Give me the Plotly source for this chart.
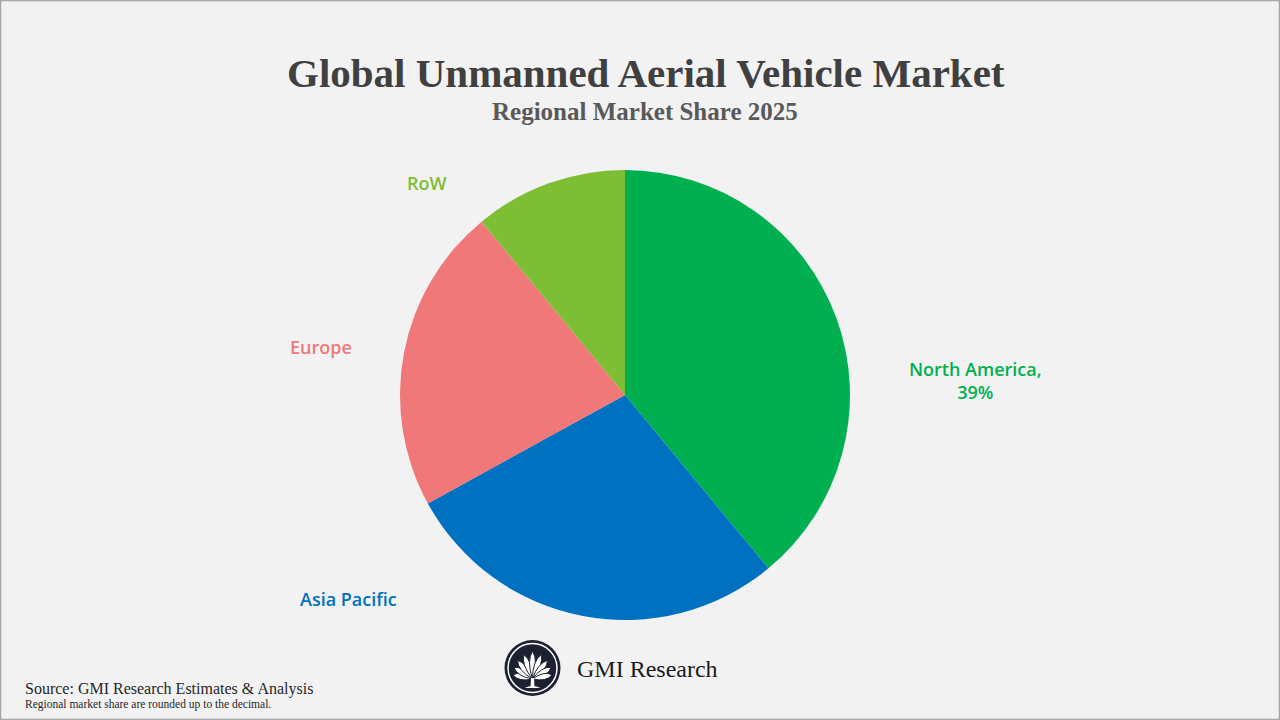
import math
import plotly.graph_objects as go

# regional shares 2025 (%)
regions = ["North America", "Asia Pacific", "Europe", "RoW"]
shares = [39, 28, 22, 11]
colors = ["#00B050", "#0070C0", "#F07878", "#7DBE34"]
show_pct = [True, False, False, False]

title = "Global Unmanned Aerial Vehicle Market"
subtitle = "Regional Market Share 2025"
source = "Source: GMI Research Estimates & Analysis"
note = "Regional market share are rounded up to the decimal."

W, H = 1280, 720
cx, cy, r = 625, 395, 225

fig = go.Figure()
fig.add_trace(go.Pie(
    labels=regions, values=shares, sort=False, direction="clockwise",
    rotation=0, marker=dict(colors=colors, line=dict(width=0)),
    textinfo="none", hoverinfo="label+percent", showlegend=False,
    domain=dict(x=[(cx - r) / W, (cx + r) / W],
                y=[(H - cy - r) / H, (H - cy + r) / H]),
))

# label placement (pixel coords)
label_pos = [(975, 380), (348, 599), (321, 347), (427, 183)]
for name, val, col, pct, (lx, ly) in zip(regions, shares, colors, show_pct, label_pos):
    txt = f"{name},<br>{val}%" if pct else name
    fig.add_annotation(x=lx, y=ly, text=txt, showarrow=False,
                       font=dict(family="Open Sans", size=18, color=col, weight=600),
                       xanchor="center", yanchor="middle")

fig.add_annotation(x=W / 2 + 6, y=73, text=f"<b>{title}</b>", showarrow=False,
                   font=dict(family="Liberation Serif", size=41, color="#404040"))
fig.add_annotation(x=W / 2 + 5, y=111, text=f"<b>{subtitle}</b>", showarrow=False,
                   font=dict(family="Liberation Serif", size=25, color="#595959"))
fig.add_annotation(x=23, y=689, text=source, showarrow=False, xanchor="left",
                   font=dict(family="Liberation Serif", size=16, color="#262626"))
fig.add_annotation(x=23, y=704, text=note, showarrow=False, xanchor="left",
                   font=dict(family="Liberation Serif", size=11.5, color="#262626"))
fig.add_annotation(x=575, y=669, text="GMI Research", showarrow=False, xanchor="left",
                   font=dict(family="Liberation Serif", size=24, color="#1a1a1a"))

# logo: dark disc, white ring, fan of leaves
gx, gy = 532.5, 668
shapes = [
    dict(type="circle", x0=gx - 28, x1=gx + 28, y0=gy - 28, y1=gy + 28,
         fillcolor="#1b2130", line=dict(width=0)),
    dict(type="circle", x0=gx - 24.5, x1=gx + 24.5, y0=gy - 24.5, y1=gy + 24.5,
         fillcolor="rgba(0,0,0,0)", line=dict(color="white", width=1.5)),
]
bx, by = gx, gy + 11
for a in [-78, -58, -39, -19.5, 0, 19.5, 39, 58, 78]:
    t = math.radians(a)
    L = 28 - abs(a) / 78 * 8
    tx, ty = bx + L * math.sin(t), by - L * math.cos(t)
    px, py = -math.cos(t) * 6, -math.sin(t) * 6
    mx, my = bx + 0.65 * L * math.sin(t), by - 0.65 * L * math.cos(t)
    shapes.append(dict(type="path",
                       path=f"M{bx},{by} Q{mx + px},{my + py} {tx},{ty} Q{mx - px},{my - py} {bx},{by} Z",
                       fillcolor="white", line=dict(color="#1b2130", width=1)))
shapes.append(dict(type="path", path=f"M{gx-1.5},{gy+10} L{gx+1.5},{gy+10} L{gx+2},{gy+19} L{gx-2},{gy+19} Z",
                   fillcolor="white", line=dict(width=0)))
shapes.append(dict(type="path", path=f"M{gx-8},{gy+20} Q{gx},{gy+16} {gx+8},{gy+20} Z",
                   fillcolor="white", line=dict(width=0)))
# frame
shapes.append(dict(type="rect", x0=0.5, x1=W - 0.5, y0=0.5, y1=H - 0.5,
                   line=dict(color="#a6a6a6", width=1.5), fillcolor="rgba(0,0,0,0)"))
for s in shapes:
    s["xref"] = "x"
    s["yref"] = "y"
    s["layer"] = "above"

fig.update_layout(
    width=W, height=H, margin=dict(l=0, r=0, t=0, b=0),
    paper_bgcolor="#F2F2F2", plot_bgcolor="rgba(0,0,0,0)",
    xaxis=dict(range=[0, W], visible=False, fixedrange=True),
    yaxis=dict(range=[H, 0], visible=False, fixedrange=True),
    shapes=shapes,
)
fig.write_html("out.html", config={"displayModeBar": False},
               post_script="document.body.style.margin='0';document.body.style.overflow='hidden';")
